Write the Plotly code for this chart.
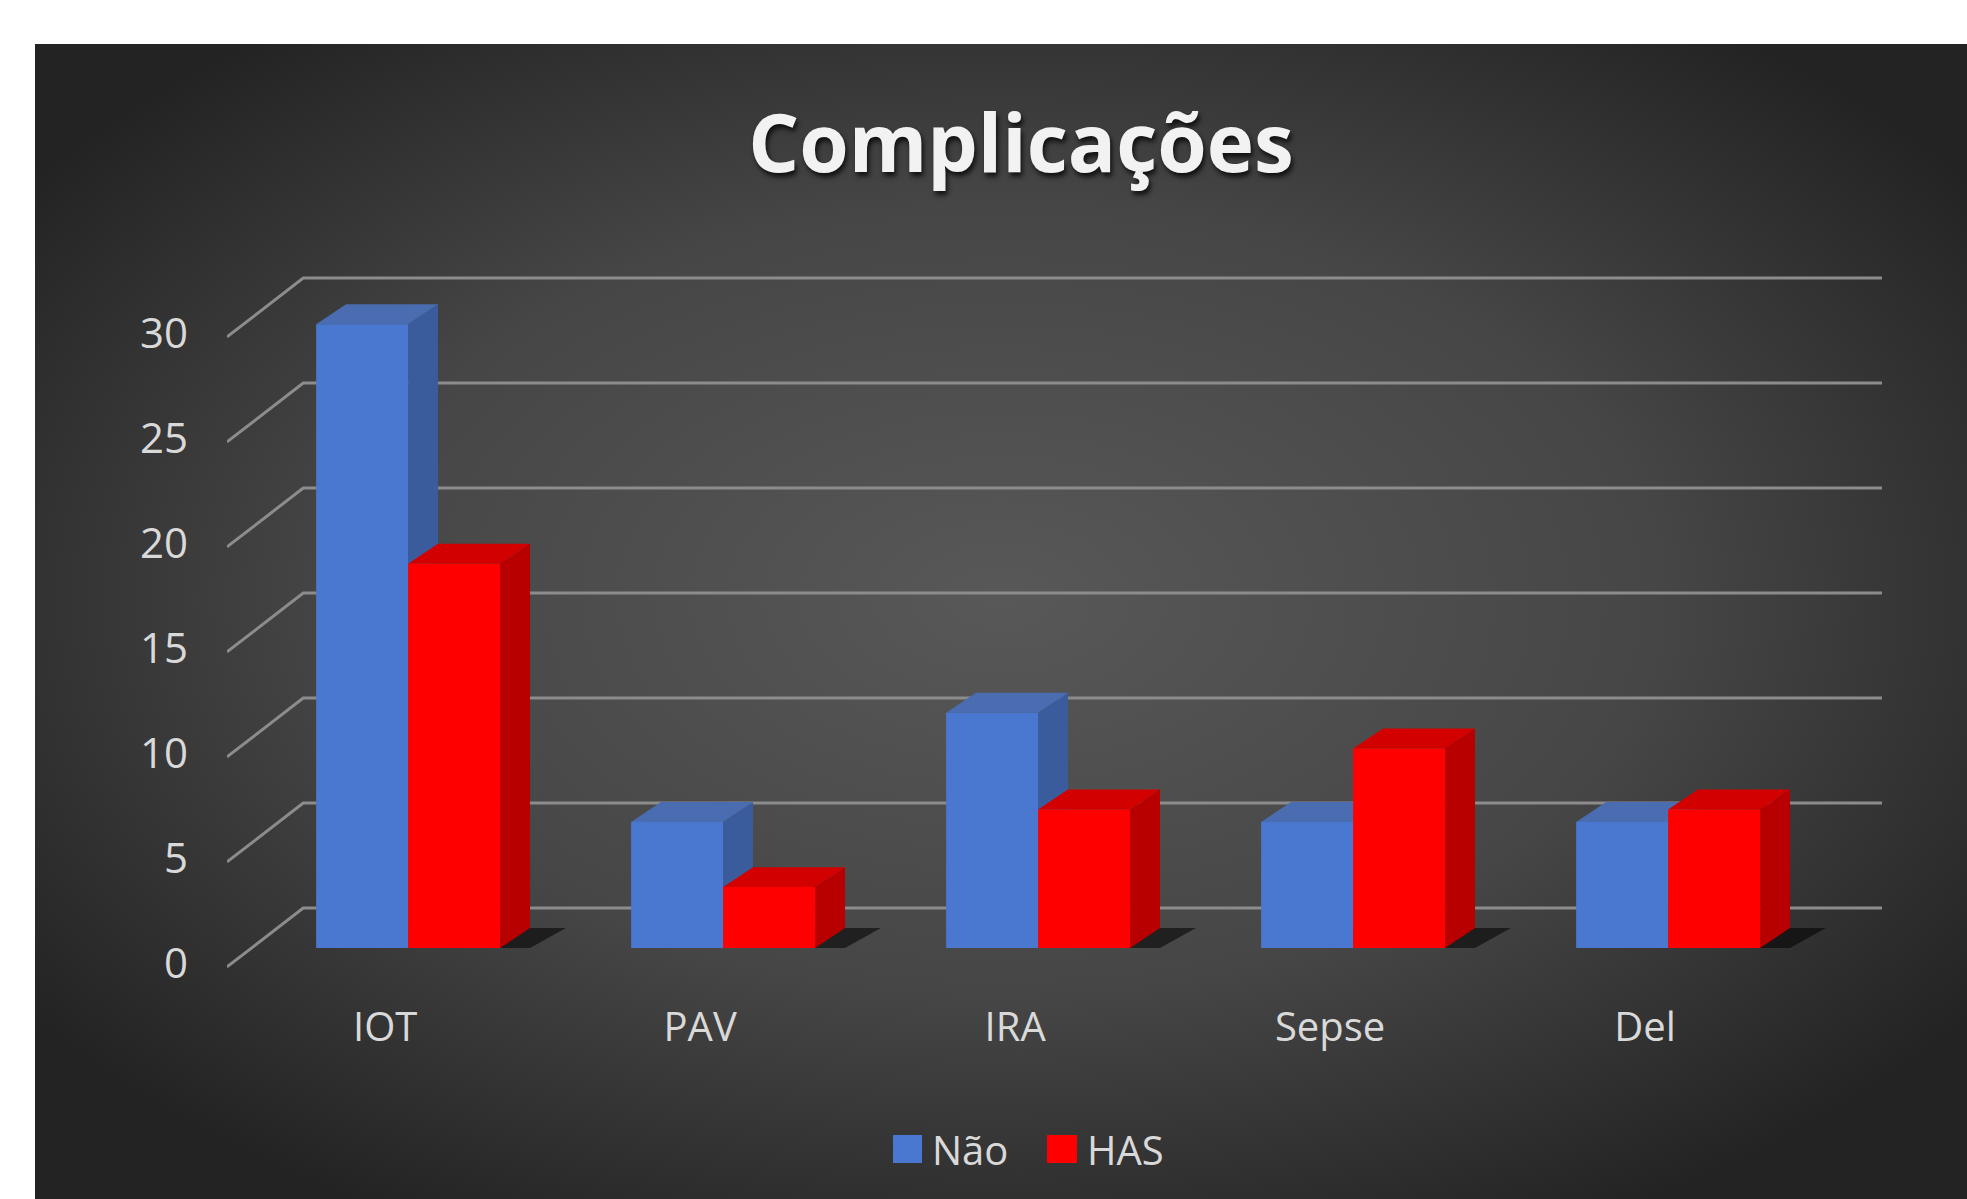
import base64
import plotly.graph_objects as go

# ---------------- data ----------------
categories = ["IOT", "PAV", "IRA", "Sepse", "Del"]
nao_values = [29.7, 6.0, 11.2, 6.0, 6.0]
has_values = [18.3, 2.9, 6.6, 9.5, 6.6]
y_ticks = [0, 5, 10, 15, 20, 25, 30]
series_names = ["Não", "HAS"]
title_text = "Complicações"

# ---------------- styling ----------------
W, H = 1967, 1199
ML, MR, MT, MB = 227, 85, 255, 209
PW, PH = W - ML - MR, H - MT - MB
X_RANGE = [-0.575, 4.679]
Y_RANGE = [-2.0, 33.0]
BAR_W = 0.292          # width of one bar in category units
DEPTH_X = 0.095        # 3D depth offset (category units)
DEPTH_Y = 0.95         # 3D depth offset (value units)
WALL_DY = 1.9          # back wall offset (value units)
FRONT_DY = -0.9        # front floor edge offset (value units)
WALL_X0 = -0.333

BLUE_FRONT, BLUE_SIDE, BLUE_TOP = "#4a78d0", "#3b5c9c", "#4a6cb0"
RED_FRONT, RED_SIDE, RED_TOP = "#ff0000", "#b80000", "#d30000"
TEXT = "#d9d9d9"
GRID = "#8c8c8c"
FONT = "Open Sans"


def px_x(px):
    return (px - ML) / PW


def px_y(py):
    return (H - MB - py) / PH


fig = go.Figure()

xs = list(range(len(categories)))
fig.add_trace(go.Bar(x=xs, y=nao_values, name=series_names[0],
                     marker=dict(color=BLUE_FRONT, line=dict(width=0)),
                     showlegend=False))
fig.add_trace(go.Bar(x=xs, y=has_values, name=series_names[1],
                     marker=dict(color=RED_FRONT, line=dict(width=0)),
                     showlegend=False))

shapes = []

# back wall gridlines + slanted connectors to the front axis
for v in y_ticks:
    path = (f"M{X_RANGE[0]},{v + FRONT_DY} L{WALL_X0},{v + WALL_DY} "
            f"L{X_RANGE[1]},{v + WALL_DY}")
    shapes.append(dict(type="path", path=path, xref="x", yref="y",
                       line=dict(color=GRID, width=3), layer="below"))

# floor shadows behind each pair of bars
for i in xs:
    x0 = i - BAR_W
    x1 = i + BAR_W
    path = (f"M{x0},0 L{x0 + DEPTH_X},{DEPTH_Y} L{x1 + DEPTH_X * 2.2},{DEPTH_Y} "
            f"L{x1 + DEPTH_X},0 Z")
    shapes.append(dict(type="path", path=path, xref="x", yref="y",
                       fillcolor="rgba(0,0,0,0.55)", line=dict(width=0),
                       layer="between"))

# 3D side and top faces computed from the values
def faces(i, v, left, side_col, top_col):
    right = left + BAR_W
    side = (f"M{right},0 L{right + DEPTH_X},{DEPTH_Y} "
            f"L{right + DEPTH_X},{v + DEPTH_Y} L{right},{v} Z")
    top = (f"M{left},{v} L{left + DEPTH_X},{v + DEPTH_Y} "
           f"L{right + DEPTH_X},{v + DEPTH_Y} L{right},{v} Z")
    return [dict(type="path", path=side, xref="x", yref="y",
                 fillcolor=side_col, line=dict(width=0), layer="between"),
            dict(type="path", path=top, xref="x", yref="y",
                 fillcolor=top_col, line=dict(width=0), layer="between")]


for i in xs:
    shapes += faces(i, nao_values[i], i - BAR_W, BLUE_SIDE, BLUE_TOP)
    shapes += faces(i, has_values[i], i, RED_SIDE, RED_TOP)

# legend squares
shapes.append(dict(type="rect", xref="paper", yref="paper",
                   x0=px_x(893), x1=px_x(922), y0=px_y(1163), y1=px_y(1135),
                   fillcolor=BLUE_FRONT, line=dict(width=0)))
shapes.append(dict(type="rect", xref="paper", yref="paper",
                   x0=px_x(1047), x1=px_x(1077), y0=px_y(1163), y1=px_y(1135),
                   fillcolor=RED_FRONT, line=dict(width=0)))

annotations = [
    dict(text=series_names[0], xref="paper", yref="paper", x=px_x(930), y=px_y(1149),
         xanchor="left", yanchor="middle", showarrow=False,
         font=dict(family=FONT, size=40, color=TEXT)),
    dict(text=series_names[1], xref="paper", yref="paper", x=px_x(1085), y=px_y(1149),
         xanchor="left", yanchor="middle", showarrow=False,
         font=dict(family=FONT, size=40, color=TEXT)),
]

# background radial gradient panel
svg = f'''<svg xmlns="http://www.w3.org/2000/svg" width="1932" height="1155" viewBox="0 0 1932 1155" preserveAspectRatio="none">
<defs><radialGradient id="g" cx="50%" cy="48%" r="62%">
<stop offset="0" stop-color="#585858"/><stop offset="0.55" stop-color="#464646"/>
<stop offset="1" stop-color="#232323"/></radialGradient></defs>
<rect width="1932" height="1155" fill="url(#g)"/></svg>'''
src = "data:image/svg+xml;base64," + base64.b64encode(svg.encode()).decode()

fig.update_layout(
    width=W, height=H,
    margin=dict(l=ML, r=MR, t=MT, b=MB, autoexpand=False),
    paper_bgcolor="white", plot_bgcolor="rgba(0,0,0,0)",
    barmode="group", bargap=1 - 2 * BAR_W, bargroupgap=0,
    showlegend=False,
    title=dict(text=title_text, x=px_x(1021), y=1 - 144 / H, xref="paper",
               xanchor="center", yanchor="middle",
               font=dict(family=FONT, size=80, color="#f2f2f2", weight=700,
                         shadow="2px 4px 5px rgba(0,0,0,0.75)")),
    xaxis=dict(range=X_RANGE, tickvals=xs, ticktext=categories,
               showgrid=False, zeroline=False, showline=False, ticks="",
               ticklabelshift=-23, ticklabelstandoff=10,
               tickfont=dict(family=FONT, size=40, color=TEXT)),
    yaxis=dict(range=Y_RANGE, tickvals=y_ticks, showgrid=False, zeroline=False,
               showline=False, ticks="", ticklabelshift=15, ticklabelstandoff=38,
               tickfont=dict(family=FONT, size=42, color=TEXT)),
    shapes=shapes,
    annotations=annotations,
    images=[dict(source=src, xref="paper", yref="paper",
                 x=px_x(35), y=px_y(44), sizex=px_x(W) - px_x(35),
                 sizey=px_y(44) - px_y(H), xanchor="left", yanchor="top",
                 sizing="stretch", layer="below")],
)

fig.write_html("out.html")
